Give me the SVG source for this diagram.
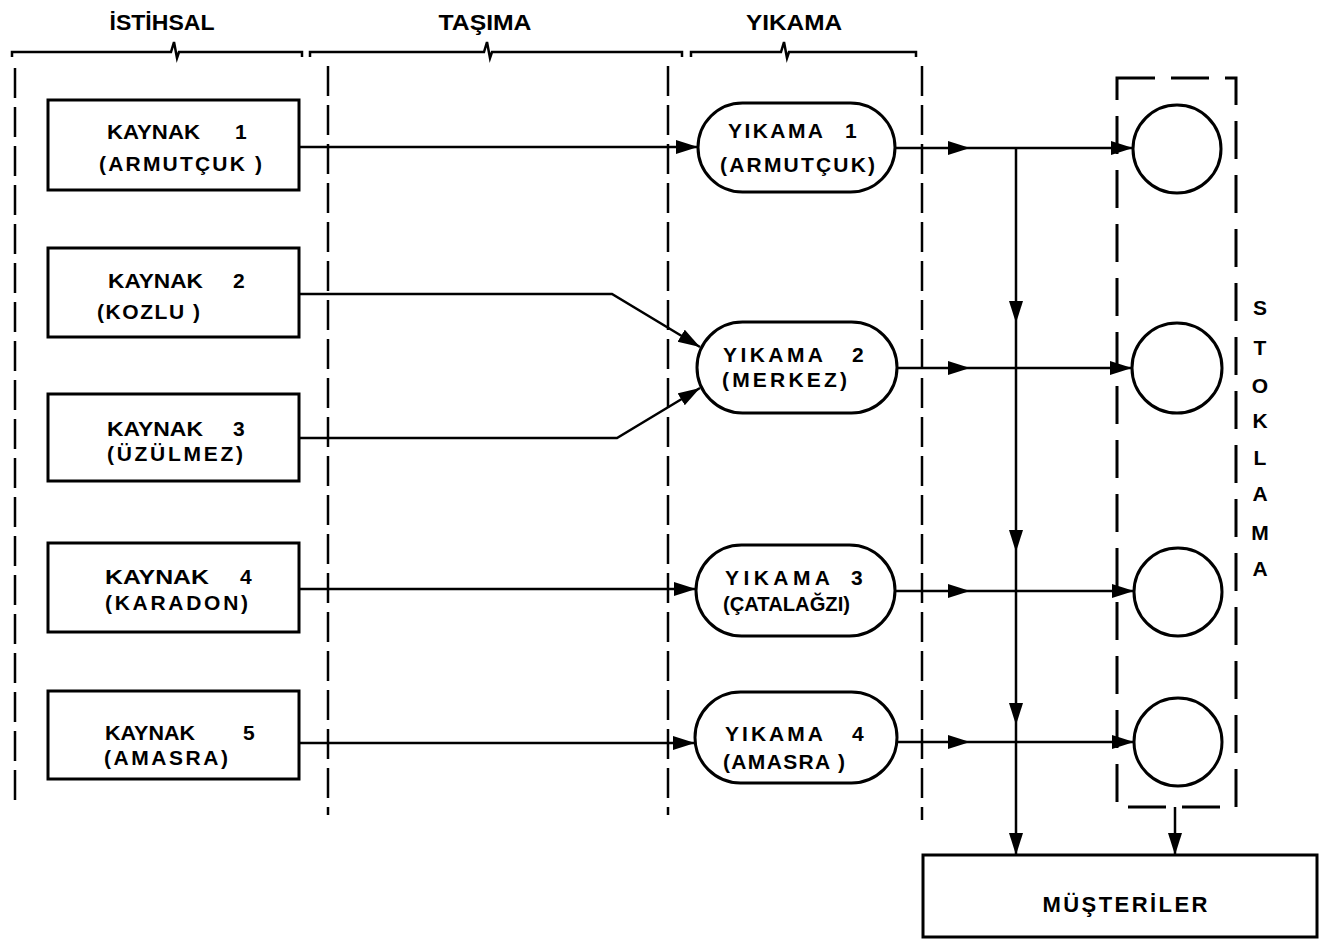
<svg xmlns="http://www.w3.org/2000/svg" width="1339" height="942" viewBox="0 0 1339 942">
<style>
.t{font-family:"Liberation Sans",Arial,sans-serif;font-weight:bold;font-size:21px;fill:#000}
.h{font-size:22px;text-anchor:middle}
.box{fill:#fff;stroke:#000;stroke-width:3}
.sep{fill:none;stroke:#000;stroke-width:2.5;stroke-dasharray:30 9}
.brk{fill:none;stroke:#000;stroke-width:2.5}
.ln{fill:none;stroke:#000;stroke-width:2.5}
.ar{fill:none;stroke:#000;stroke-width:2.5;marker-end:url(#ah)}
.arm{fill:none;stroke:#000;stroke-width:2.5;marker-mid:url(#ah);marker-end:url(#ah)}
.stk{fill:none;stroke:#000;stroke-width:3;stroke-dasharray:38 16}
</style>
<defs>
<marker id="ah" markerUnits="userSpaceOnUse" markerWidth="24" markerHeight="16" refX="22" refY="7" orient="auto">
<path d="M0,0 L22,7 L0,14 z" fill="#000"/>
</marker>
</defs>
<rect width="1339" height="942" fill="#fff"/>
<g id="headers">
<text class="t h" x="162" y="30" textLength="105" lengthAdjust="spacingAndGlyphs">İSTİHSAL</text>
<text class="t h" x="485" y="30" textLength="93" lengthAdjust="spacingAndGlyphs">TAŞIMA</text>
<text class="t h" x="794" y="30" textLength="96" lengthAdjust="spacingAndGlyphs">YIKAMA</text>
<path class="brk" d="M12,57 L12,52 L171,52 L174,42 L177,58 L179,52 L302,52 L302,57"/>
<path class="brk" d="M310,57 L310,52 L484,52 L487,42 L490,58 L492,52 L682,52 L682,57"/>
<path class="brk" d="M691,57 L691,52 L781,52 L784,42 L787,58 L789,52 L916,52 L916,57"/>
</g>
<g id="separators">
<path class="sep" d="M15,68 L15,808"/>
<path class="sep" d="M328,66 L328,815"/>
<path class="sep" d="M668,66 L668,815"/>
<path class="sep" d="M922,66 L922,820"/>
</g>
<g id="connectors">
<path class="ar" d="M299,147 L698,147"/>
<path class="ar" d="M299,294 L612,294 L700,347"/>
<path class="ar" d="M299,438 L617,438 L700,388"/>
<path class="ar" d="M299,589 L696,589"/>
<path class="ar" d="M299,743 L695,743"/>
<path class="arm" d="M895,148 L970,148 L1133,148"/>
<path class="arm" d="M897,368 L970,368 L1132,368"/>
<path class="arm" d="M895,591 L970,591 L1134,591"/>
<path class="arm" d="M897,742 L970,742 L1134,742"/>
<path class="arm" d="M1016,148 L1016,323 L1016,552 L1016,725 L1016,855"/>
<path class="ar" d="M1175,807 L1175,855"/>
</g>
<g id="kaynak1">
<rect class="box" x="48" y="100" width="251" height="90"/>
<text class="t" x="107" y="139" textLength="93" lengthAdjust="spacingAndGlyphs">KAYNAK</text>
<text class="t" x="235" y="139">1</text>
<text class="t" x="99" y="171" textLength="163" lengthAdjust="spacing">(ARMUTÇUK )</text>
</g>
<g id="kaynak2">
<rect class="box" x="48" y="248" width="251" height="89"/>
<text class="t" x="108" y="288" textLength="95" lengthAdjust="spacingAndGlyphs">KAYNAK</text>
<text class="t" x="233" y="288">2</text>
<text class="t" x="97" y="319" textLength="103" lengthAdjust="spacing">(KOZLU )</text>
</g>
<g id="kaynak3">
<rect class="box" x="48" y="394" width="251" height="87"/>
<text class="t" x="107" y="436" textLength="96" lengthAdjust="spacingAndGlyphs">KAYNAK</text>
<text class="t" x="233" y="436">3</text>
<text class="t" x="107" y="461" textLength="136" lengthAdjust="spacing">(ÜZÜLMEZ)</text>
</g>
<g id="kaynak4">
<rect class="box" x="48" y="543" width="251" height="89"/>
<text class="t" x="105" y="584" textLength="104" lengthAdjust="spacingAndGlyphs">KAYNAK</text>
<text class="t" x="240" y="584">4</text>
<text class="t" x="105" y="610" textLength="143" lengthAdjust="spacing">(KARADON)</text>
</g>
<g id="kaynak5">
<rect class="box" x="48" y="691" width="251" height="88"/>
<text class="t" x="105" y="740" textLength="90" lengthAdjust="spacingAndGlyphs">KAYNAK</text>
<text class="t" x="243" y="740">5</text>
<text class="t" x="104" y="765" textLength="124" lengthAdjust="spacing">(AMASRA)</text>
</g>
<g id="yikama1">
<rect class="box" x="698" y="103" width="197" height="89" rx="44.5"/>
<text class="t" x="728" y="138" textLength="95" lengthAdjust="spacing">YIKAMA</text>
<text class="t" x="845" y="138">1</text>
<text class="t" x="720" y="172" textLength="155" lengthAdjust="spacing">(ARMUTÇUK)</text>
</g>
<g id="yikama2">
<rect class="box" x="697" y="322" width="200" height="91" rx="45.5"/>
<text class="t" x="723" y="362" textLength="100" lengthAdjust="spacing">YIKAMA</text>
<text class="t" x="852" y="362">2</text>
<text class="t" x="722" y="387" textLength="125" lengthAdjust="spacing">(MERKEZ)</text>
</g>
<g id="yikama3">
<rect class="box" x="696" y="545" width="199" height="91" rx="45.5"/>
<text class="t" x="725" y="585" textLength="105" lengthAdjust="spacing">YIKAMA</text>
<text class="t" x="851" y="585">3</text>
<text class="t" x="723" y="611" font-size="19" textLength="127" lengthAdjust="spacingAndGlyphs">(ÇATALAĞZI)</text>
</g>
<g id="yikama4">
<rect class="box" x="695" y="692" width="202" height="91" rx="45.5"/>
<text class="t" x="725" y="741" textLength="98" lengthAdjust="spacing">YIKAMA</text>
<text class="t" x="852" y="741">4</text>
<text class="t" x="723" y="769" textLength="122" lengthAdjust="spacing">(AMASRA )</text>
</g>
<g id="stoklama">
<path class="stk" d="M1117,78 L1236,78 L1236,807 L1117,807 Z"/>
<circle cx="1177" cy="149" r="44" fill="none" stroke="#000" stroke-width="3"/>
<circle cx="1177" cy="368" r="45" fill="none" stroke="#000" stroke-width="3"/>
<circle cx="1178" cy="592" r="44" fill="none" stroke="#000" stroke-width="3"/>
<circle cx="1178" cy="742" r="44" fill="none" stroke="#000" stroke-width="3"/>
<g class="t" font-size="19" text-anchor="middle">
<text x="1260" y="315">S</text>
<text x="1260" y="355">T</text>
<text x="1260" y="393">O</text>
<text x="1260" y="428">K</text>
<text x="1260" y="465">L</text>
<text x="1260" y="501">A</text>
<text x="1260" y="540">M</text>
<text x="1260" y="576">A</text>
</g>
</g>
<g id="musteriler">
<rect class="box" x="923" y="855" width="394" height="82"/>
<text class="t h" x="1125" y="912" textLength="165" lengthAdjust="spacing">MÜŞTERİLER</text>
</g>
</svg>
